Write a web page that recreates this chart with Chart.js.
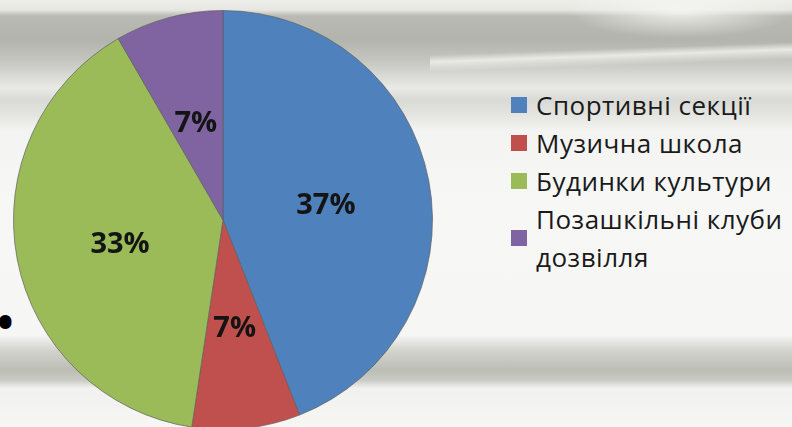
<!DOCTYPE html>
<html>
<head>
<meta charset="utf-8">
<script src="https://cdn.jsdelivr.net/npm/chart.js@4/dist/chart.umd.min.js"></script>
<style>
  html, body { margin: 0; padding: 0; }
  body {
    width: 792px; height: 427px; overflow: hidden; position: relative;
    background:
      linear-gradient(180deg,
        #eeeeea 0px, #e6e6e2 10px, #b9bab3 16px, #b3b4ad 40px, #c4c5be 60px,
        #d8d8d4 75px, #e9e9e6 88px, #d9dad5 100px, #e4e4e0 115px, #f3f3f1 130px,
        #f7f7f6 200px, #f6f6f5 335px, #d3d4ce 350px, #bcbdb5 370px, #c9cac4 380px,
        #f1f1ef 388px, #f6f6f4 427px);
    font-family: "Open Sans", "Noto Sans", sans-serif;
  }
  #swoosh {
    position: absolute; left: 430px; top: 0; width: 362px; height: 80px;
    background:
      radial-gradient(ellipse 160px 40px at 250px 10px, rgba(245,245,242,0.9), rgba(245,245,242,0) 70%),
      linear-gradient(178deg, rgba(255,255,255,0) 55px, rgba(240,240,236,0.85) 62px, rgba(255,255,255,0) 72px);
  }
  #wrap { position: absolute; left: 13px; top: 10px; width: 420px; height: 420px; }
  #legend { position: absolute; left: 511px; top: 86px; color: #1a1a1a; }
  .row { display: flex; align-items: center; font-size: 26px; line-height: 38px; letter-spacing: 0.5px; }
  .box { width: 16px; height: 16px; margin-right: 9px; flex: none; }
  .dot { position: absolute; left: -3px; top: 291px; font-size: 44px; color: #000; font-weight: bold; }
</style>
</head>
<body>
<div id="swoosh"></div>
<div class="dot">•</div>
<div id="wrap"><canvas id="pie"></canvas></div>
<div id="legend"></div>
<script>
const categories = ['Спортивні секції', 'Музична школа', 'Будинки культури', 'Позашкільні клуби дозвілля'];
const legendLines = [['Спортивні секції'], ['Музична школа'], ['Будинки культури'], ['Позашкільні клуби', 'дозвілля']];
const values = [37, 7, 33, 7];
const colors = ['#4f81bd', '#c0504d', '#9bbb59', '#8064a2'];

// labels in the middle of each slice
const sliceLabels = {
  id: 'sliceLabels',
  afterDatasetsDraw(chart) {
    const ctx = chart.ctx;
    const meta = chart.getDatasetMeta(0);
    ctx.save();
    ctx.font = 'bold 29px "Open Sans", "Noto Sans", sans-serif';
    ctx.fillStyle = '#141414';
    ctx.textAlign = 'center';
    ctx.textBaseline = 'middle';
    meta.data.forEach((arc, i) => {
      const p = arc.tooltipPosition();
      ctx.fillText(values[i] + '%', p.x, p.y + 5);
    });
    ctx.restore();
  }
};

new Chart(document.getElementById('pie'), {
  type: 'pie',
  data: {
    labels: categories,
    datasets: [{
      data: values,
      backgroundColor: colors,
      borderColor: 'rgba(95,95,95,0.7)',
      borderWidth: 1
    }]
  },
  options: {
    animation: false,
    responsive: true,
    maintainAspectRatio: false,
    layout: { padding: 0 },
    plugins: { legend: { display: false }, tooltip: { enabled: false } }
  },
  plugins: [sliceLabels]
});

// legend built from the same arrays
const legend = document.getElementById('legend');
legendLines.forEach((lines, i) => {
  const row = document.createElement('div');
  row.className = 'row';
  const box = document.createElement('div');
  box.className = 'box';
  box.style.background = colors[i];
  const txt = document.createElement('div');
  txt.innerHTML = lines.join('<br>');
  row.appendChild(box);
  row.appendChild(txt);
  legend.appendChild(row);
});
</script>
</body>
</html>
